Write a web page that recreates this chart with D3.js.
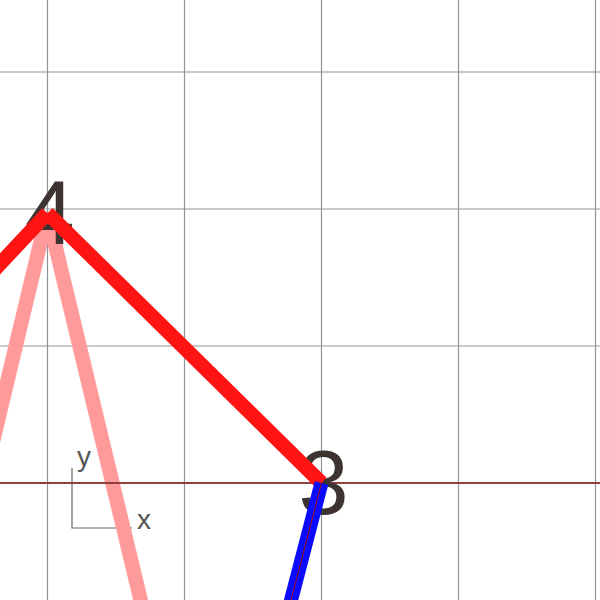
<!DOCTYPE html>
<html><head><meta charset="utf-8">
<script src="https://cdn.jsdelivr.net/npm/d3@7"></script>
<style>html,body{margin:0;padding:0;background:#fff;overflow:hidden}svg{display:block}</style>
</head><body>
<svg id="chart" width="600" height="600"></svg>
<script>
// grid values (data units)
const gridXValues = [0, 1, 2, 3, 4];
const gridYValues = [0, 1, 2, 3];
// nodes
const nodeIds = ["4", "3", "a", "b", "c", "d"];
const nodeXs  = [0, 2, -1, -0.71, 0.715, 1.74];
const nodeYs  = [1.97, 0, 0.9, -1, -1, -1];
const labelledNodes = ["4", "3"];
// edges by series
const redEdges  = [["a", "4"], ["4", "3"]];
const pinkEdges = [["b", "4"], ["4", "c"]];
const blueEdges = [["3", "d"]];
const axisLabels = ["x", "y"];

const svg = d3.select("#chart");
const W = 600, H = 600;
const x = d3.scaleLinear().domain([0, 4]).range([47.5, 595.5]);
const y = d3.scaleLinear().domain([0, 3]).range([483, 72]);
const nodes = new Map(nodeIds.map((id, i) => [id, {x: nodeXs[i], y: nodeYs[i]}]));

// grid
svg.append("g").selectAll("line.v").data(gridXValues).join("line")
  .attr("x1", d => x(d)).attr("x2", d => x(d)).attr("y1", 0).attr("y2", H)
  .attr("stroke", "#8f949c").attr("stroke-width", 1.2);
svg.append("g").selectAll("line.h").data(gridYValues.filter(d => d !== 0)).join("line")
  .attr("x1", 0).attr("x2", W).attr("y1", d => y(d)).attr("y2", d => y(d))
  .attr("stroke", "#8f949c").attr("stroke-width", 1.2);

// axis indicator
const ind = svg.append("g");
ind.append("path").attr("d", "M72,468V528H132").attr("fill", "none")
  .attr("stroke", "#666").attr("stroke-width", 1.2);
ind.append("text").attr("x", 137).attr("y", 529).text(axisLabels[0])
  .attr("font-family", "Liberation Sans, sans-serif").attr("font-size", 28).attr("fill", "#555");
ind.append("text").attr("x", 77).attr("y", 466).text(axisLabels[1])
  .attr("font-family", "Liberation Sans, sans-serif").attr("font-size", 28).attr("fill", "#555");

function drawEdges(edges, color, width) {
  svg.append("g").selectAll("line").data(edges).join("line")
    .attr("x1", d => x(nodes.get(d[0]).x)).attr("y1", d => y(nodes.get(d[0]).y))
    .attr("x2", d => x(nodes.get(d[1]).x)).attr("y2", d => y(nodes.get(d[1]).y))
    .attr("stroke", color).attr("stroke-width", width).attr("stroke-linecap", "butt");
}

drawEdges(pinkEdges, "#ff9a9a", 14.5);

// x axis line (y = 0)
svg.append("line").attr("x1", 0).attr("x2", W).attr("y1", y(0)).attr("y2", y(0))
  .attr("stroke", "#8e3f3f").attr("stroke-width", 2);

// node labels
svg.append("g").selectAll("text").data(labelledNodes).join("text")
  .attr("x", d => x(nodes.get(d).x) + 2).attr("y", d => y(nodes.get(d).y) + 31)
  .attr("text-anchor", "middle")
  .attr("font-family", "Liberation Sans, sans-serif").attr("font-size", 90)
  .attr("fill", "#3d3431").text(d => d);

drawEdges(redEdges, "#ff1414", 14.5);
drawEdges(blueEdges, "#0a0aff", 14);
drawEdges(blueEdges, "#a01010", 1);
</script>
</body></html>
